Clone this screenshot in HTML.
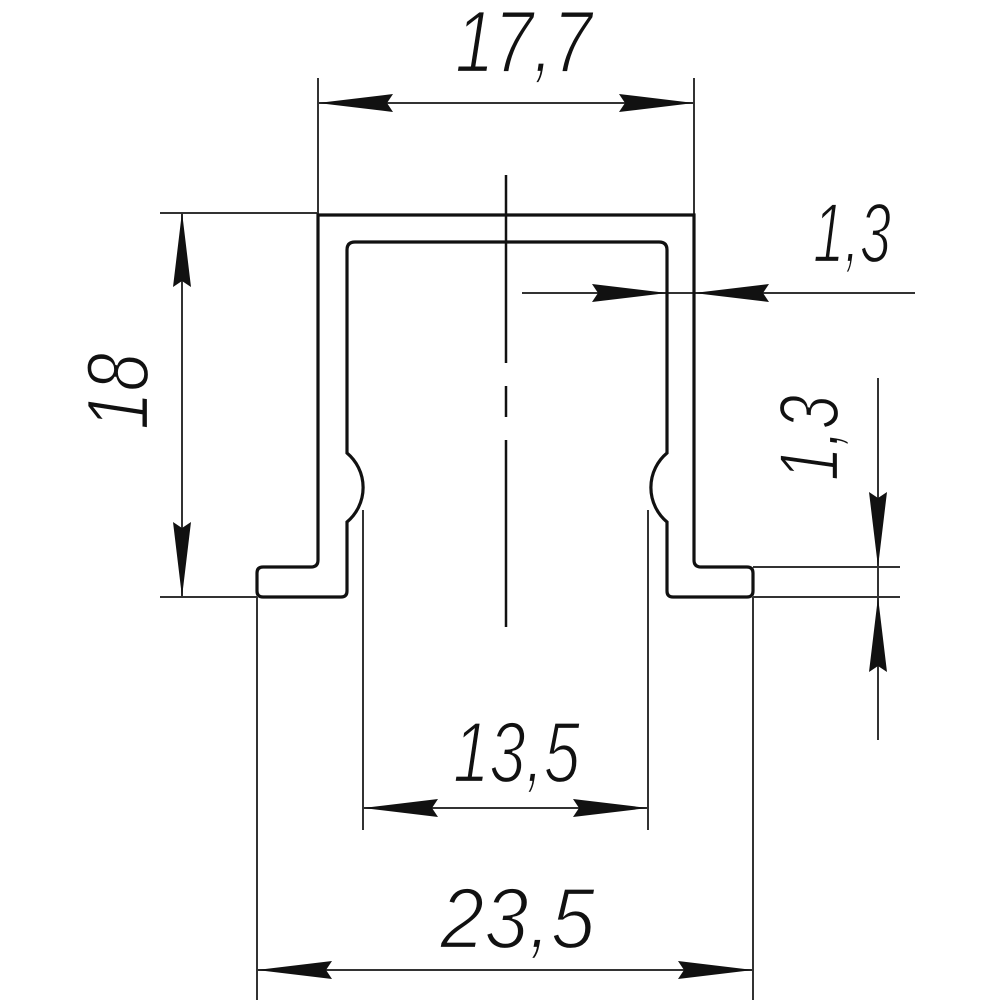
<!DOCTYPE html>
<html><head><meta charset="utf-8"><style>
html,body{margin:0;padding:0;background:#fff;}
svg{display:block;}
text{font-family:"Liberation Sans",sans-serif;font-style:italic;fill:#111;stroke:#fff;stroke-width:2.2;}
</style></head><body>
<svg width="1000" height="1000" viewBox="0 0 1000 1000" xmlns="http://www.w3.org/2000/svg">
<g stroke="#333" stroke-width="2" fill="none">
  <line x1="318" y1="78" x2="318" y2="215"/>
  <line x1="694" y1="78" x2="694" y2="215"/>
  <line x1="160" y1="213" x2="318" y2="213"/>
  <line x1="160" y1="597" x2="257" y2="597"/>
  <line x1="753" y1="567" x2="900" y2="567"/>
  <line x1="753" y1="597" x2="900" y2="597"/>
  <line x1="363" y1="510" x2="363" y2="830"/>
  <line x1="648" y1="510" x2="648" y2="830"/>
  <line x1="257" y1="597" x2="257" y2="1000"/>
  <line x1="753" y1="597" x2="753" y2="1000"/>
  <line x1="318" y1="103" x2="694" y2="103"/>
  <line x1="182" y1="212" x2="182" y2="597"/>
  <line x1="522" y1="293" x2="915" y2="293"/>
  <line x1="878" y1="378" x2="878" y2="740"/>
  <line x1="363" y1="808" x2="648" y2="808"/>
  <line x1="257" y1="970" x2="753" y2="970"/>
</g>
<g stroke="#111" stroke-width="2.5">
  <line x1="506" y1="175" x2="506" y2="363"/>
  <line x1="506" y1="386" x2="506" y2="417"/>
  <line x1="506" y1="440" x2="506" y2="627"/>
</g>
<path d="M318,215 L694,215 L694,560 Q694,567 701,567 L747,567 Q753,567 753,573 L753,591 Q753,597 747,597 L673,597 Q667,597 667,591 L667,522 A45,45 0 0 1 667,453 L667,250 Q667,242 659,242 L355,242 Q347,242 347,250 L347,453 A45,45 0 0 1 347,522 L347,591 Q347,597 341,597 L263,597 Q257,597 257,591 L257,573 Q257,567 263,567 L311,567 Q318,567 318,560 Z" fill="none" stroke="#111" stroke-width="3.2"/>
<g fill="#111">
  <polygon points="318,103 393,94 387,103 393,112"/>
  <polygon points="694,103 619,94 625,103 619,112"/>
  <polygon points="182,212 173,287 182,281 191,287"/>
  <polygon points="182,597 173,522 182,528 191,522"/>
  <polygon points="667,293 592,284 598,293 592,302"/>
  <polygon points="694,293 769,284 763,293 769,302"/>
  <polygon points="878,567 869,492 878,498 887,492"/>
  <polygon points="878,597 869,672 878,666 887,672"/>
  <polygon points="363,808 438,799 432,808 438,817"/>
  <polygon points="648,808 573,799 579,808 573,817"/>
  <polygon points="257,970 332,961 326,970 332,979"/>
  <polygon points="753,970 678,961 684,970 678,979"/>
</g>
<text x="455" y="72" font-size="88" textLength="137" lengthAdjust="spacingAndGlyphs">17,7</text>
<text x="813" y="262" font-size="84" textLength="78" lengthAdjust="spacingAndGlyphs">1,3</text>
<text x="453" y="782" font-size="86" textLength="127" lengthAdjust="spacingAndGlyphs">13,5</text>
<text x="440" y="948" font-size="86" textLength="155" lengthAdjust="spacingAndGlyphs">23,5</text>
<text x="-38" y="0" font-size="88" textLength="77" lengthAdjust="spacingAndGlyphs" transform="translate(148,392) rotate(-90)">18</text>
<text x="-43" y="0" font-size="84" textLength="86" lengthAdjust="spacingAndGlyphs" transform="translate(838,438) rotate(-90)">1,3</text>
</svg>
</body></html>
